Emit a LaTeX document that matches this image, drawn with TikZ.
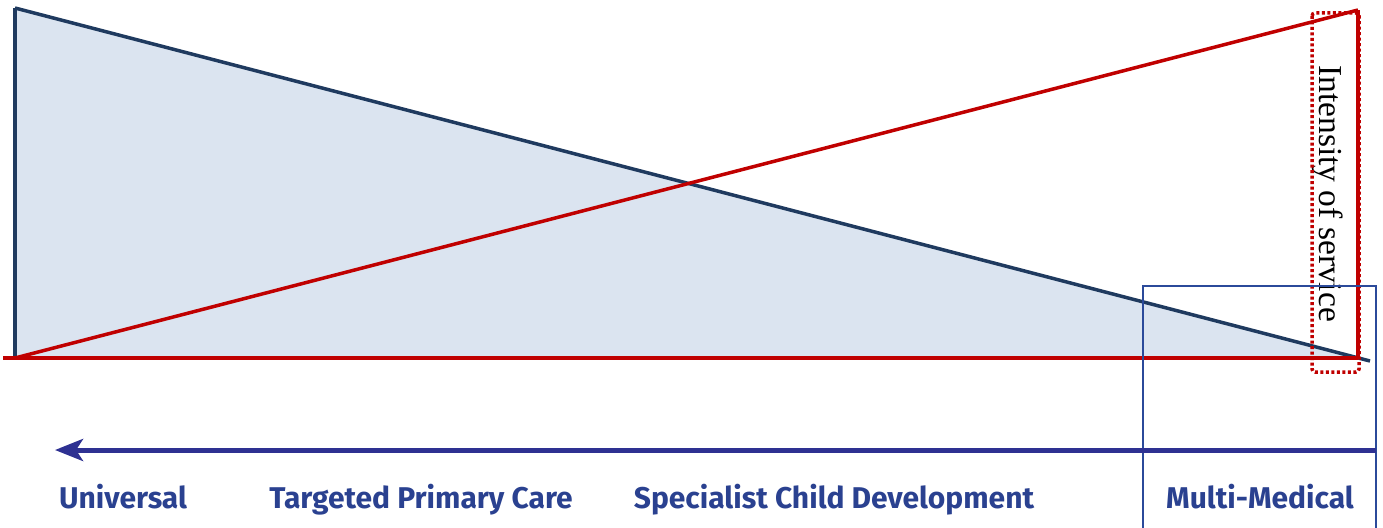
\documentclass[tikz,border=0pt]{standalone}
\usepackage{fontspec}
\setmainfont{Liberation Serif}
\newfontfamily\labelfont{Fira Sans}
\usepackage{tikz}
\usetikzlibrary{shapes,arrows,arrows.meta,backgrounds,positioning,fit}
\definecolor{PaleBlue}{HTML}{DBE4F0}
\definecolor{Navy}{HTML}{1F3A5F}
\definecolor{DeepRed}{HTML}{C00000}
\definecolor{ArrowBlue}{HTML}{2E3192}
\definecolor{BoxBlue}{HTML}{2B4A9A}
\definecolor{TextBlue}{HTML}{2A4190}

\begin{document}
\begin{tikzpicture}[x=1pt,y=-1pt]
				\tikzstyle{Corner}	= [coordinate]
				\tikzstyle{Level}	= [anchor=base, inner sep=0pt, text=TextBlue, font=\labelfont\bfseries\fontsize{30}{33}\selectfont]
				\tikzstyle{Axis}	= [anchor=base west, rotate=-90, inner sep=0pt, font=\fontsize{33.5}{38}\selectfont]
				\tikzstyle{Universal}	= [draw=Navy, line width=3.5pt]
				\tikzstyle{Intense}	= [draw=DeepRed, line width=3.5pt]
				\tikzstyle{Scale}	= [draw=ArrowBlue, line width=5pt, -{Stealth[length=28pt,width=22pt,inset=7pt]}]

				\useasboundingbox (0,0) rectangle (1383,527);

				\node (top) at (15,8) [Corner] {};
				\node (origin) at (15,358) [Corner] {};
				\node (base) at (1358,358) [Corner] {};
				\node (tip) at (1370,361) [Corner] {};
				\node (left) at (3,358) [Corner] {};
				\node (peak) at (1358,10) [Corner] {};
				\node (start) at (1376,450) [Corner] {};
				\node (stop) at (55,450) [Corner] {};

				\fill [PaleBlue] (top) -- (base) -- (origin) -- cycle;
				\draw [Universal] (origin) to (top);
				\draw [Universal] (top) to (tip);
				\draw [Intense] (left) to (base);
				\draw [Intense] (origin) to (peak);
				\draw [Intense] (peak) to (base);

				\node (axis) at (1319,65) [Axis] {Intensity of service};
				\draw [DeepRed, line width=3.5pt, dash pattern=on 3pt off 2.5pt, rounded corners=3pt] (1312,13) rectangle (1359,372);
				\draw [BoxBlue, line width=2.2pt] (1143,286) rectangle (1376,540);
				\draw [Scale] (start) to (stop);

				\node (universal) at (123,508) [Level] {Universal};
				\node (targeted) at (421,508) [Level] {Targeted Primary Care};
				\node (specialist) at (834,508) [Level] {Specialist Child Development};
				\node (multi) at (1260,508) [Level] {Multi-Medical};
\end{tikzpicture}
\end{document}
